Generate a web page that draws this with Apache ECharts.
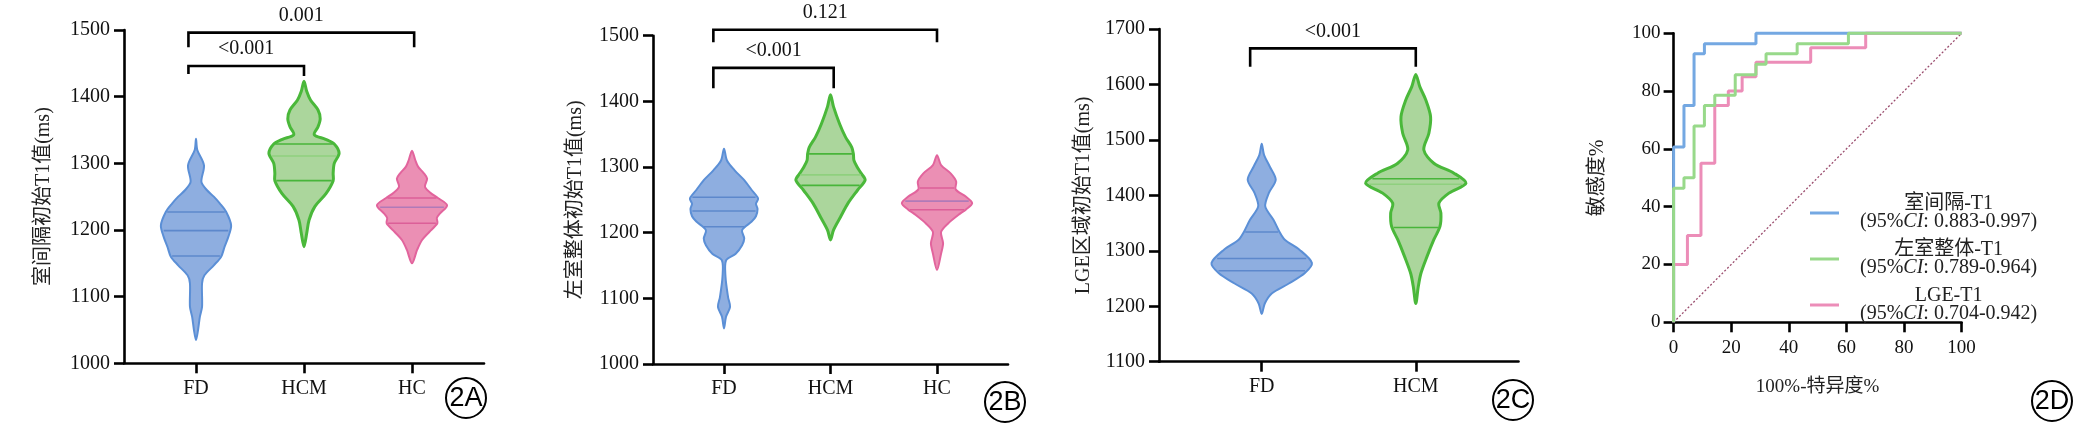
<!DOCTYPE html>
<html>
<head>
<meta charset="utf-8">
<script src="https://cdn.jsdelivr.net/npm/echarts@6/dist/echarts.min.js"></script>
<style>
  html, body { margin: 0; padding: 0; background: #fff; }
  #chart { width: 2079px; height: 432px; }
</style>
</head>
<body>
<div id="chart"></div>
<script>
// ---- data ----
const catsAB = ['FD', 'HCM', 'HC']
const catsC = ['FD', 'HCM']

// violin outlines: [T1 value (ms), half width in category units], top to bottom
const violA_FD = [[1337,0],[1320,0.012],[1297,0.074],[1272,0.05],[1260,0.10],[1250,0.165],[1240,0.22],[1227,0.28],[1207,0.325],[1190,0.30],[1175,0.265],[1160,0.233],[1147,0.165],[1132,0.078],[1120,0.056],[1085,0.056],[1070,0.036],[1050,0.019],[1035,0]]
const violA_HCM = [[1423,0],[1408,0.025],[1395,0.06],[1380,0.13],[1367,0.15],[1355,0.13],[1343,0.095],[1336,0.2],[1329,0.28],[1315,0.325],[1300,0.28],[1285,0.27],[1274,0.27],[1255,0.205],[1235,0.10],[1215,0.047],[1195,0.025],[1175,0]]
const violA_HC = [[1319,0],[1305,0.03],[1295,0.056],[1285,0.11],[1277,0.14],[1265,0.12],[1256,0.17],[1248,0.24],[1237,0.325],[1225,0.26],[1218,0.23],[1210,0.235],[1197,0.16],[1185,0.093],[1170,0.047],[1150,0]]

const violB_FD = [[1328,0],[1310,0.028],[1295,0.10],[1280,0.19],[1265,0.26],[1252,0.32],[1244,0.30],[1236,0.315],[1225,0.30],[1217,0.26],[1204,0.17],[1191,0.19],[1181,0.17],[1168,0.11],[1158,0.02],[1133,0.014],[1102,0.038],[1087,0.057],[1072,0.019],[1054,0]]
const violB_HCM = [[1410,0],[1392,0.028],[1366,0.085],[1346,0.14],[1330,0.20],[1320,0.215],[1310,0.22],[1300,0.25],[1290,0.29],[1280,0.325],[1265,0.255],[1245,0.165],[1224,0.094],[1204,0.028],[1189,0]]
const violB_HC = [[1318,0],[1303,0.038],[1290,0.13],[1278,0.18],[1266,0.175],[1255,0.27],[1245,0.33],[1235,0.27],[1229,0.217],[1214,0.104],[1201,0.038],[1184,0.057],[1168,0.038],[1143,0]]

const violC_FD = [[1493,0],[1473,0.015],[1452,0.052],[1428,0.091],[1404,0.046],[1380,0.023],[1356,0.076],[1335,0.114],[1320,0.15],[1302,0.245],[1278,0.326],[1260,0.28],[1241,0.176],[1223,0.065],[1205,0.02],[1186,0]]
const violC_HCM = [[1618,0],[1596,0.026],[1572,0.065],[1542,0.096],[1512,0.085],[1482,0.052],[1458,0.117],[1440,0.248],[1422,0.326],[1404,0.215],[1386,0.15],[1368,0.163],[1344,0.157],[1320,0.117],[1289,0.072],[1259,0.033],[1235,0.016],[1205,0]]

// quartiles [Q1, median, Q3]
const quartA = [[1161,1199,1227],[1274,1311,1329],[1210,1234,1248]]
const quartB = [[1209,1233,1254],[1272,1288,1320],[1235,1248,1268]]
const quartC = [[1264,1286,1334],[1342,1420,1430]]

// significance: compared groups and P values
const sigPairsA = [[1, 2], [1, 3]]
const sigTextA = ['<0.001', '0.001']
const sigPairsB = [[1, 2], [1, 3]]
const sigTextB = ['<0.001', '0.121']
const sigPairsC = [[1, 2]]
const sigTextC = ['<0.001']

// ROC: [100% - specificity %, sensitivity %]
const rocNames = ['室间隔-T1', '左室整体-T1', 'LGE-T1']
const rocCI = ['0.883-0.997', '0.789-0.964', '0.704-0.942']
const rocSeptum = [[0,0],[0,60.7],[3.6,75],[7.1,92.9],[10.7,96.4],[28.6,100],[100,100]]
const rocLV = [[0,0],[0,46.4],[3.6,50],[7.1,67.9],[10.7,75],[14.3,78.6],[21.4,85.7],[28.6,89.3],[32.1,92.9],[42.9,96.4],[60.7,100],[100,100]]
const rocLGE = [[0,0],[0,20],[4.8,30],[9.5,55],[14.3,75],[19,80],[23.8,85],[28.6,90],[47.6,95],[66.7,100],[100,100]]
const refLine = [[0,0],[100,100]]

// ---- styles / layout ----
const SERIF = '"Liberation Serif", "Noto Sans CJK SC", serif'
const BLUE = { fill: '#8eaee0', stroke: '#5b8fd6', lw: 2, quart: '#5d88cc', median: '#5d88cc' }
const GREEN = { fill: '#abd69c', stroke: '#4ab83a', lw: 3, quart: '#48b53a', median: '#8fd07e' }
const PINK = { fill: '#eb8fb4', stroke: '#e2649d', lw: 2, quart: '#dc5f98', median: '#b07ab8' }
// bracket levels: [line y, left foot y, right foot y] and end nudges (category units)
const levelsA = [[1446, 1434, 1431], [1496, 1474, 1474]]
const levelsB = [[1451, 1420, 1420], [1509, 1490, 1490]]
const levelsC = [[1665, 1632, 1632]]
const nudgeA = [[-0.07, 0], [-0.07, 0.02]]
const nudgeB = [[-0.1, 0.03], [-0.1, 0]]
const nudgeC = [[-0.075, 0]]

function widthAt(prof, v) {
    for (let k = 0; k < prof.length - 1; k++) {
        const [v1, w1] = prof[k]
        const [v2, w2] = prof[k + 1]
        if (v <= v1 && v >= v2) return w1 + (w2 - w1) * (v1 - v) / (v1 - v2)
    }
    return 0
}

function violinSeries(grid, profiles, quartiles, colors) {
    return {
        type: 'custom',
        xAxisIndex: grid,
        yAxisIndex: grid,
        silent: true,
        data: quartiles.map((q, i) => [i + 1, q[1]]),
        renderItem(params, api) {
            const i = params.dataIndex
            const x = i + 1
            const prof = profiles[i]
            const col = colors[i]
            const right = prof.map(([v, w]) => api.coord([x + w, v]))
            const left = prof.slice(1, -1).reverse().map(([v, w]) => api.coord([x - w, v]))
            const children = [{
                type: 'polygon',
                shape: { points: right.concat(left), smooth: 0.3 },
                style: { fill: col.fill, stroke: col.stroke, lineWidth: col.lw },
            }]
            quartiles[i].forEach((q, k) => {
                const w = widthAt(prof, q)
                const a = api.coord([x - w, q])
                const b = api.coord([x + w, q])
                children.push({
                    type: 'line',
                    shape: { x1: a[0] + 1.5, y1: a[1], x2: b[0] - 1.5, y2: b[1] },
                    style: { stroke: k === 1 ? col.median : col.quart, lineWidth: 1.6 },
                })
            })
            return { type: 'group', children }
        },
    }
}

function bracketSeries(grid, pairs, texts, levels, nudges) {
    return {
        type: 'custom',
        xAxisIndex: grid,
        yAxisIndex: grid,
        silent: true,
        z: 5,
        data: pairs.map((p, i) => [p[0], levels[i][0]]),
        renderItem(params, api) {
            const i = params.dataIndex
            const x1 = pairs[i][0] + nudges[i][0]
            const x2 = pairs[i][1] + nudges[i][1]
            const [y, f1, f2] = levels[i]
            const p1 = api.coord([x1, f1])
            const p2 = api.coord([x1, y])
            const p3 = api.coord([x2, y])
            const p4 = api.coord([x2, f2])
            return {
                type: 'group',
                children: [{
                    type: 'polyline',
                    shape: { points: [p1, p2, p3, p4] },
                    style: { stroke: '#000', lineWidth: 2.6, fill: null },
                }, {
                    type: 'text',
                    style: {
                        text: texts[i], x: (p2[0] + p3[0]) / 2, y: p2[1] - 7,
                        align: 'center', verticalAlign: 'bottom',
                        font: '20px ' + SERIF, fill: '#111',
                    },
                }],
            }
        },
    }
}

const axisLineStyle = { color: '#000', width: 2.6 }
const labelStyle = { fontFamily: SERIF, fontSize: 20, color: '#111' }
const plain = (v) => String(v)

function catAxis(grid, cats) {
    const ticks = cats.map((c, i) => i + 1)
    return {
        type: 'value', gridIndex: grid, min: 1 / 3, max: cats.length + 2 / 3,
        axisLine: { onZero: false, lineStyle: axisLineStyle },
        axisTick: { customValues: ticks, length: 10, lineStyle: axisLineStyle },
        axisLabel: Object.assign({ customValues: ticks, margin: 15, formatter: (v) => cats[Math.round(v) - 1] }, labelStyle),
        splitLine: { show: false },
    }
}

function valAxis(grid, min, max, interval, name, gap) {
    return {
        type: 'value', gridIndex: grid, min, max, interval,
        name, nameLocation: 'middle', nameGap: gap, nameRotate: 90,
        nameTextStyle: { fontFamily: SERIF, fontSize: 20, color: '#222' },
        axisLine: { show: true, onZero: false, lineStyle: axisLineStyle },
        axisTick: { show: true, length: 10, lineStyle: axisLineStyle },
        axisLabel: Object.assign({ margin: 14, formatter: plain }, labelStyle),
        splitLine: { show: false },
    }
}

function rocSeries(name, data, color) {
    return {
        name, type: 'line', xAxisIndex: 3, yAxisIndex: 3, data, step: 'end',
        color, showSymbol: false, silent: true, clip: false,
        lineStyle: { color, width: 3 },
    }
}

const tags = ['2A', '2B', '2C', '2D']
const tagPos = [[466, 398], [1005, 402], [1513, 400], [2052, 401]]

const chart = echarts.init(document.getElementById('chart'), null, { renderer: 'canvas' })
chart.setOption({
    animation: false,
    backgroundColor: '#fff',
    grid: [
        { left: 124, top: 30, width: 360, height: 333.3 },
        { left: 653, top: 35.7, width: 355, height: 328.3 },
        { left: 1159, top: 29, width: 359.5, height: 332.7 },
        { left: 1673.6, top: 33.3, width: 288, height: 289 },
    ],
    xAxis: [
        catAxis(0, catsAB),
        catAxis(1, catsAB),
        catAxis(2, catsC),
        {
            type: 'value', gridIndex: 3, min: 0, max: 100, interval: 20,
            name: '100%-特异度%', nameLocation: 'middle', nameGap: 55,
            nameTextStyle: { fontFamily: SERIF, fontSize: 19, color: '#222' },
            axisLine: { onZero: false, lineStyle: axisLineStyle },
            axisTick: { length: 10, lineStyle: axisLineStyle },
            axisLabel: Object.assign({}, labelStyle, { fontSize: 19, margin: 16, formatter: plain }),
            splitLine: { show: false },
        },
    ],
    yAxis: [
        valAxis(0, 1000, 1500, 100, '室间隔初始T1值(ms)', 70),
        valAxis(1, 1000, 1500, 100, '左室整体初始T1值(ms)', 67),
        valAxis(2, 1100, 1700, 100, 'LGE区域初始T1值(ms)', 65),
        Object.assign(valAxis(3, 0, 100, 20, '敏感度%', 66), {
            axisLabel: Object.assign({}, labelStyle, { fontSize: 19, margin: 13, formatter: plain }),
        }),
    ],
    legend: {
        data: rocNames,
        orient: 'vertical',
        left: 1805,
        top: 189,
        itemWidth: 29,
        itemHeight: 3,
        itemGap: 8,
        icon: 'rect',
        selectedMode: false,
        textStyle: {
            padding: [0, 0, 0, 16],
            rich: {
                t: { fontFamily: SERIF, fontSize: 20, lineHeight: 18, color: '#222', align: 'center' },
                i: { fontFamily: SERIF, fontSize: 20, lineHeight: 18, color: '#222', fontStyle: 'italic', align: 'center' },
            },
        },
        formatter: (name) => {
            const ci = rocCI[rocNames.indexOf(name)]
            return `{t|${name}}\n{t|(95%}{i|CI}{t|: ${ci})}`
        },
    },
    graphic: tags.map((t, i) => ({
        type: 'group',
        x: tagPos[i][0],
        y: tagPos[i][1],
        silent: true,
        children: [
            { type: 'circle', shape: { cx: 0, cy: 0, r: 20 }, style: { fill: 'none', stroke: '#000', lineWidth: 2 } },
            { type: 'text', style: { text: t, x: 0, y: 1, align: 'center', verticalAlign: 'middle', font: '27px "Liberation Sans Narrow", "Liberation Sans", sans-serif', fill: '#000' } },
        ],
    })),
    series: [
        violinSeries(0, [violA_FD, violA_HCM, violA_HC], quartA, [BLUE, GREEN, PINK]),
        bracketSeries(0, sigPairsA, sigTextA, levelsA, nudgeA),
        violinSeries(1, [violB_FD, violB_HCM, violB_HC], quartB, [BLUE, GREEN, PINK]),
        bracketSeries(1, sigPairsB, sigTextB, levelsB, nudgeB),
        violinSeries(2, [violC_FD, violC_HCM], quartC, [BLUE, GREEN]),
        bracketSeries(2, sigPairsC, sigTextC, levelsC, nudgeC),
        {
            type: 'line', xAxisIndex: 3, yAxisIndex: 3, data: refLine, showSymbol: false, silent: true,
            lineStyle: { color: '#9b4d6e', width: 1.3, type: [2, 2] }, z: 1,
        },
        rocSeries(rocNames[0], rocSeptum, '#74a8e2'),
        rocSeries('LGE-T1', rocLGE, '#ec8db8'),
        rocSeries(rocNames[1], rocLV, '#98d98a'),
    ],
})
</script>
</body>
</html>
